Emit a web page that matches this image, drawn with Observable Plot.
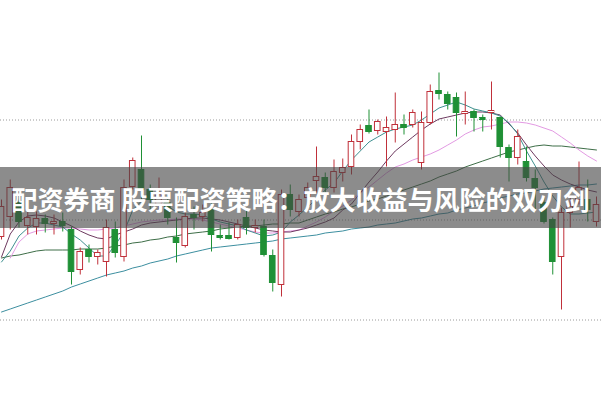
<!DOCTYPE html>
<html><head><meta charset="utf-8">
<script src="https://cdn.jsdelivr.net/npm/d3@7"></script>
<script src="https://cdn.jsdelivr.net/npm/@observablehq/plot@0.6"></script>
<style>
html,body{margin:0;padding:0;background:#fff;}
#wrap{position:relative;width:601px;height:399px;overflow:hidden;}
#chart{position:absolute;left:0;top:0;}
#banner{position:absolute;left:0;top:167px;width:601px;height:61px;background:rgba(70,70,70,0.62);color:#fff;font-family:"Noto Sans CJK SC","Noto Sans",sans-serif;font-weight:bold;font-size:26px;display:flex;align-items:center;justify-content:center;white-space:nowrap;padding-top:1px;box-sizing:border-box;}
</style></head><body>
<div id="wrap"><div id="chart"></div><div id="banner">配资券商 股票配资策略：放大收益与风险的双刃剑</div></div>
<script>
const titleText = "配资券商 股票配资策略：放大收益与风险的双刃剑";
const gridLevels = [10, 11, 12];
const open  = [10.83,11.03,11.17,10.94,10.93,11.01,10.96,10.98,10.90,10.50,10.70,10.63,10.58,10.90,10.63,11.33,11.50,11.30,11.15,11.17,10.82,10.74,11.05,11.03,11.10,10.84,10.84,10.82,11.02,10.92,10.93,10.64,10.35,11.25,11.08,11.22,11.39,11.42,11.32,11.47,11.53,11.78,11.94,11.89,11.88,11.90,11.95,11.95,11.57,11.97,12.29,12.25,12.22,12.06,12.08,12.02,12.07,12.02,11.72,11.62,11.58,11.41,11.17,11.00,10.63,11.07,11.20,11.20,10.98];
const close = [11.13,11.32,10.98,11.02,11.01,10.96,10.98,10.94,10.48,10.68,10.63,10.67,10.92,10.67,11.32,11.59,11.30,11.20,11.25,11.02,10.77,11.03,11.02,11.07,10.85,10.82,10.81,10.95,10.92,10.94,10.65,10.37,11.25,11.10,11.20,11.32,11.43,11.32,11.48,11.52,11.78,11.90,11.88,11.98,11.92,11.95,11.92,12.07,11.97,12.28,12.26,12.16,12.07,12.08,12.02,12.00,12.09,11.73,11.62,11.83,11.42,11.32,10.98,10.58,11.07,11.13,11.32,11.10,11.15];
const high  = [11.20,11.40,11.27,11.08,11.08,11.05,11.05,11.07,10.93,10.72,10.75,10.70,11.00,10.98,11.40,11.62,11.84,11.35,11.42,11.24,11.02,11.07,11.13,11.15,11.17,10.95,10.97,11.00,11.12,11.00,11.00,10.70,11.30,11.35,11.25,11.37,11.73,11.47,11.60,11.61,11.85,11.95,12.10,12.00,12.03,12.27,12.05,12.10,12.08,12.35,12.47,12.28,12.27,12.28,12.10,12.05,12.38,12.03,11.75,11.90,11.73,11.50,11.22,11.02,11.12,11.22,11.58,11.40,11.23];
const low   = [10.80,10.90,10.92,10.85,10.85,10.87,10.85,10.88,10.35,10.45,10.57,10.55,10.43,10.62,10.58,11.30,11.20,11.10,11.10,10.95,10.57,10.72,10.90,10.98,10.68,10.80,10.80,10.80,10.85,10.87,10.63,10.28,10.23,11.03,11.03,11.13,11.27,11.27,11.27,11.38,11.45,11.70,11.86,11.85,11.53,11.77,11.85,11.92,11.50,11.95,12.20,12.10,11.83,11.95,11.88,11.88,11.90,11.62,11.38,11.55,11.38,11.10,10.96,10.45,10.10,10.92,11.15,10.98,10.93];
const ma5  = [10.58,10.69,10.84,10.92,10.97,10.97,10.95,10.93,10.86,10.80,10.72,10.64,10.64,10.75,10.88,11.10,11.19,11.22,11.20,11.14,11.08,11.06,11.06,11.05,11.01,10.98,10.96,10.94,10.90,10.87,10.84,10.85,10.88,10.98,11.05,11.13,11.21,11.30,11.37,11.49,11.60,11.69,11.78,11.83,11.88,11.91,11.93,11.95,12.00,12.06,12.12,12.15,12.18,12.15,12.11,12.09,12.07,12.04,11.97,11.86,11.69,11.54,11.38,11.24,11.13,11.06,11.06,11.07,11.08];
const ma10 = [10.63,10.86,10.98,11.04,11.05,11.04,11.02,10.98,10.94,10.89,10.85,10.82,10.81,10.85,10.88,10.91,10.95,10.97,10.98,10.99,11.00,11.01,11.02,11.02,11.01,11.00,10.98,10.96,10.94,10.92,10.90,10.89,10.88,10.88,10.90,10.92,10.95,10.98,11.02,11.10,11.16,11.27,11.38,11.48,11.59,11.69,11.76,11.83,11.90,11.96,12.01,12.03,12.05,12.07,12.08,12.08,12.07,12.05,11.96,11.87,11.75,11.64,11.54,11.45,11.40,11.36,11.33,11.30,11.28];
const ma20 = [null,10.62,10.78,10.86,10.89,10.90,10.91,10.92,10.92,10.91,10.90,10.90,10.91,10.92,10.94,10.96,10.98,10.99,11.00,11.00,11.01,11.01,11.01,11.00,10.98,10.96,10.94,10.92,10.90,10.88,10.87,10.87,10.88,10.89,10.90,10.94,10.98,11.03,11.09,11.14,11.20,11.27,11.33,11.40,11.47,11.53,11.56,11.60,11.63,11.66,11.70,11.75,11.80,11.86,11.90,11.93,11.94,11.96,11.98,11.98,11.97,11.95,11.92,11.89,11.83,11.77,11.70,11.64,11.59];
const ma30 = [10.62,10.64,10.65,10.67,10.69,10.70,10.70,10.70,10.70,10.71,10.71,10.71,10.72,10.74,10.75,10.77,10.78,10.80,10.81,10.83,10.84,10.86,10.87,10.88,10.89,10.91,10.92,10.93,10.94,10.94,10.95,10.96,10.96,10.97,10.97,11.00,11.03,11.06,11.08,11.11,11.13,11.16,11.19,11.21,11.24,11.27,11.30,11.33,11.36,11.39,11.43,11.46,11.49,11.53,11.56,11.59,11.62,11.65,11.68,11.70,11.72,11.74,11.75,11.74,11.74,11.73,11.72,11.71,11.70];
const ma60 = [10.08,10.11,10.14,10.17,10.20,10.23,10.26,10.29,10.33,10.36,10.39,10.42,10.45,10.47,10.49,10.52,10.54,10.57,10.59,10.61,10.64,10.66,10.68,10.70,10.72,10.73,10.74,10.75,10.76,10.77,10.78,10.79,10.81,10.82,10.83,10.84,10.85,10.87,10.88,10.89,10.91,10.92,10.93,10.95,10.96,10.97,10.99,11.01,11.02,11.04,11.06,11.07,11.10,11.12,11.14,11.17,11.19,11.22,11.24,11.26,11.27,11.29,11.31,11.32,11.33,11.34,11.35,11.35,11.36];

const RED = "#c0303a", GREEN = "#1f9035";
const candles = open.map((o, i) => ({i, open: o, close: close[i], high: high[i], low: low[i]}));
const ups = candles.filter(d => d.close >= d.open);
const downs = candles.filter(d => d.close < d.open);
const series = (arr) => arr.map((v, i) => ({i, v})).filter(d => d.v != null);

const lineSpecs = [
  {data: ma60, stroke: "#3d8fa0"},
  {data: ma30, stroke: "#3e6e48"},
  {data: ma20, stroke: "#e39ae3"},
  {data: ma10, stroke: "#6e3a60"},
  {data: ma5,  stroke: "#3f9090"}
];

const chart = Plot.plot({
  width: 601, height: 399, margin: 0,
  x: {type: "linear", domain: [-1/8.75, 600/8.75], axis: null},
  y: {domain: [9.205, 13.195], axis: null},
  marks: [
    Plot.ruleY(gridLevels, {stroke: "#9a9a9a", strokeDasharray: "1,2", strokeWidth: 1}),
    ...lineSpecs.map(s => Plot.line(series(s.data), {x: "i", y: "v", stroke: s.stroke, strokeWidth: 1})),
    Plot.ruleX(downs, {x: "i", y1: "low", y2: "high", stroke: GREEN, strokeWidth: 1}),
    Plot.ruleX(ups, {x: "i", y1: "low", y2: "high", stroke: RED, strokeWidth: 1}),
    Plot.rect(downs, {x1: d => d.i - 0.32, x2: d => d.i + 0.32, y1: "open", y2: "close", fill: GREEN, stroke: GREEN, strokeWidth: 1}),
    Plot.rect(ups, {x1: d => d.i - 0.32, x2: d => d.i + 0.32, y1: "open", y2: "close", fill: "#ffffff", stroke: RED, strokeWidth: 1})
  ]
});
document.getElementById("chart").appendChild(chart);
document.getElementById("banner").textContent = titleText;
</script>
</body></html>
